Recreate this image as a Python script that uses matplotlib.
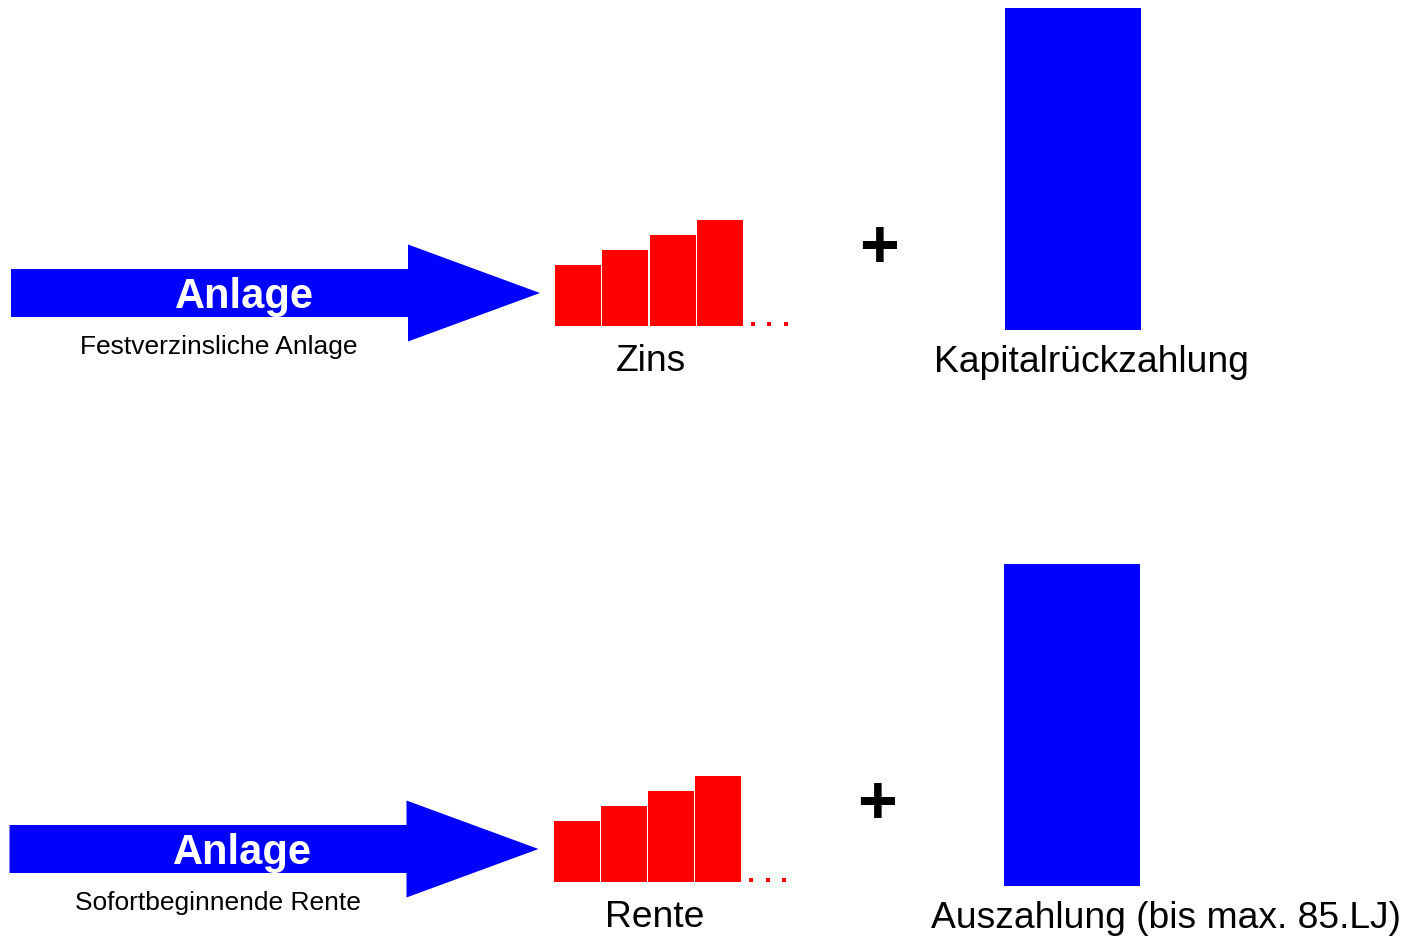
import numpy as np
import matplotlib
matplotlib.use("Agg")
from matplotlib import pyplot as plt
from matplotlib.patches import FancyArrow

plt.rcParams['font.family'] = ['Liberation Sans', 'DejaVu Sans']

# two products, one row each
titles = ["Festverzinsliche Anlage", "Sofortbeginnende Rente"]
payout_labels = ["Zins", "Rente"]
capital_labels = ["Kapitalrückzahlung", "Auszahlung (bis max. 85.LJ)"]

# yearly payments (rising) and the lump sum at the end
payments = [61, 76, 91, 106]
capital = 322

W, H = 1413, 938
fig = plt.figure(figsize=(W / 100, H / 100), dpi=100)
ax = fig.add_axes([0, 0, 1, 1])
ax.set_xlim(0, W)
ax.set_ylim(0, H)
ax.axis("off")

# row baselines (y-up pixel space) and small x shift per row
rows = [(612, 0), (56, -1.5)]
label_x = [(651, 1091), (655, 1166)]

for i, (base, dx) in enumerate(rows):
    yc = base + 33
    # Anlage arrow
    arr = FancyArrow(11 + dx, yc, 529, 0, width=48, head_width=97,
                     head_length=132, length_includes_head=True,
                     color="#0000ff", linewidth=0)
    ax.add_patch(arr)
    ax.text(244 + dx, yc - 4, "Anlage", color="white", fontsize=30,
            fontweight="bold", ha="center", va="center")
    ax.text(219 + dx, yc - 54, titles[i], color="black", fontsize=19,
            ha="center", va="center")

    # payments as bars
    x = 555 + dx + np.arange(len(payments)) * 47.3
    ax.bar(x, payments, width=46, bottom=base, align="edge",
           color="#ff0000", linewidth=0)
    ax.plot(np.array([752.5, 769, 785.5]) + dx, [base + 2.5] * 3, "s",
            color="#ff0000", markersize=3.4, markeredgewidth=0)
    ax.text(label_x[i][0], base - 35, payout_labels[i],
            fontsize=26.8, ha="center", va="center")

    ax.text(879 + dx, base + 77, "+", fontsize=49, fontweight="bold",
            ha="center", va="center")

    # capital repayment
    ax.bar(1005 + dx, capital, width=136, bottom=base - 4, align="edge",
           color="#0000ff", linewidth=0)
    ax.text(label_x[i][1], base - 36, capital_labels[i],
            fontsize=26.8, ha="center", va="center")

fig.savefig("out.png", dpi=100)
